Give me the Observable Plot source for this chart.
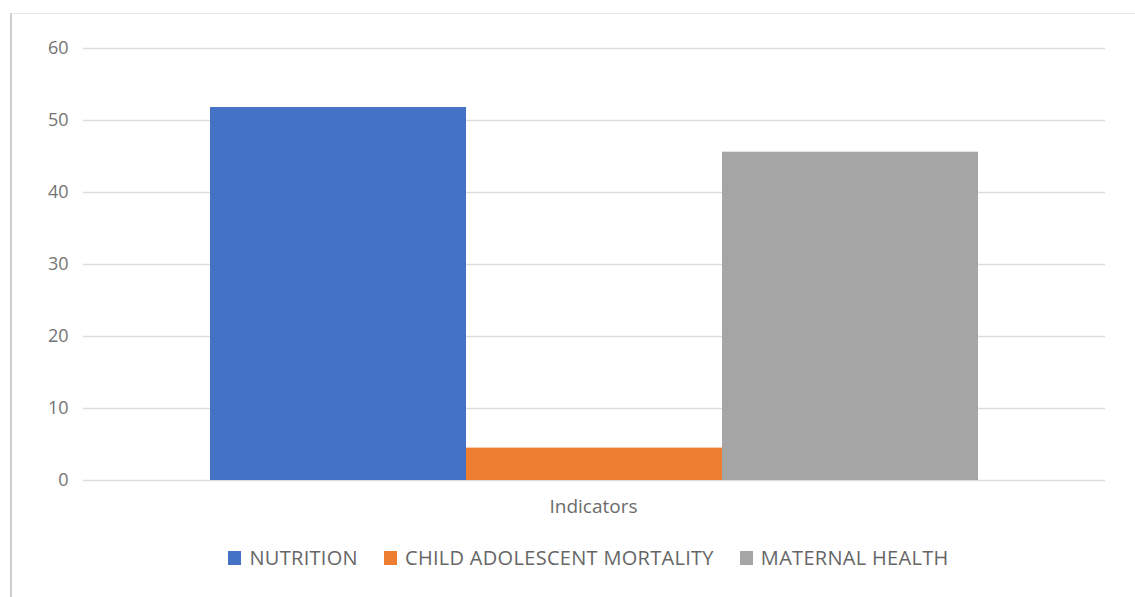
<!DOCTYPE html>
<html>
<head>
<meta charset="utf-8">
<script src="https://cdn.jsdelivr.net/npm/d3@7"></script>
<script src="https://cdn.jsdelivr.net/npm/@observablehq/plot@0.6"></script>
<style>
  html, body { margin: 0; padding: 0; background: #fff; }
  #chart { position: relative; width: 1135px; height: 597px; overflow: hidden; font-family: "Open Sans", "Noto Sans", sans-serif; }
  #frame { position: absolute; left: 10px; top: 13px; right: -2px; bottom: -2px;
           border-left: 2px solid #cdcdcd; border-top: 1px solid #e8e8e8; }
  #plot { position: absolute; left: 0; top: 0; }
  #legend { position: absolute; left: 0; width: 1135px; top: 544px; display: flex; justify-content: center;
            gap: 26px; font-size: 20px; letter-spacing: 0.3px; color: #666; padding-left: 42px; box-sizing: border-box; }
  .item { display: flex; align-items: center; gap: 8px; }
  .swatch { width: 13px; height: 14px; display: inline-block; }
</style>
</head>
<body>
<div id="chart">
  <div id="frame"></div>
  <div id="plot"></div>
  <div id="legend"></div>
</div>
<script>
// Series shown in the single "Indicators" group
const series = ["NUTRITION", "CHILD ADOLESCENT MORTALITY", "MATERNAL HEALTH"];
const values = [51.8, 4.5, 45.6];
const colors = ["#4472C4", "#ED7D31", "#A5A5A5"];
const groupLabel = ["Indicators"];
const yTicks = [0, 10, 20, 30, 40, 50, 60];

const data = series.map((s, i) => ({series: s, value: values[i]}));

const chart = Plot.plot({
  width: 1135,
  height: 530,
  marginLeft: 83,
  marginRight: 30,
  marginTop: 48,
  marginBottom: 50,
  style: {fontFamily: "'Open Sans', 'Noto Sans', sans-serif", background: "transparent"},
  x: {domain: series, paddingInner: 0, paddingOuter: 0.49, axis: null},
  y: {domain: [0, 60], axis: null},
  color: {domain: series, range: colors},
  marks: [
    Plot.gridY(yTicks, {stroke: "#dedede", strokeOpacity: 1, strokeWidth: 1.3}),
    Plot.axisY(yTicks, {tickSize: 0, tickPadding: 15, fontSize: 18, fill: "#737373", label: null}),
    Plot.barY(data, {x: "series", y: "value", fill: "series", inset: 0}),
    Plot.text(groupLabel, {text: d => d, frameAnchor: "bottom", dy: 32, dx: -1, fontSize: 19, fill: "#6b6b6b"})
  ]
});
document.getElementById("plot").appendChild(chart);

// Legend below the plot
const legend = d3.select("#legend");
series.forEach((s, i) => {
  const item = legend.append("div").attr("class", "item");
  item.append("span").attr("class", "swatch").style("background", colors[i]);
  item.append("span").text(s);
});
</script>
</body>
</html>
